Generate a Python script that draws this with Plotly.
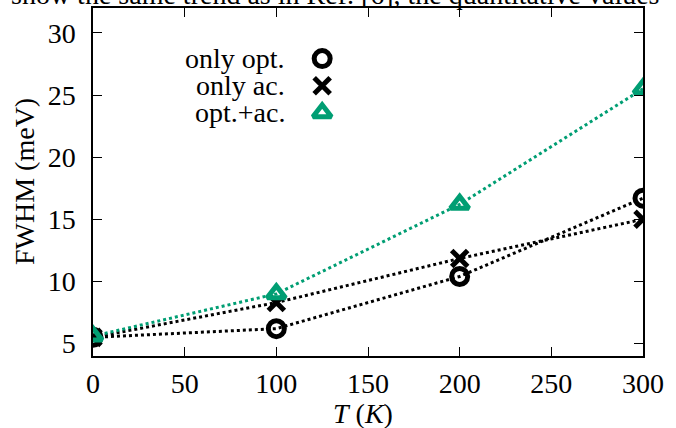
import plotly.graph_objects as go

T = [0, 100, 200, 300]
only_opt = [5.5, 6.2, 10.4, 16.7]
only_ac = [5.5, 8.3, 11.85, 15.0]
opt_ac = [5.6, 9.0, 16.2, 25.5]

labels = ["only opt.", "only ac.", "opt.+ac."]
colors = ["black", "black", "#009e73"]
symbols = ["circle-open", "x-thin-open", "triangle-up-open"]
series = [only_opt, only_ac, opt_ac]

key_x = 125
key_text_x = 106
key_y = [27.93, 25.75, 23.57]

FONT = "Liberation Serif"
FS = 28

fig = go.Figure()
for vals, col in zip(series, colors):
    fig.add_trace(go.Scatter(
        x=T, y=vals, mode="lines",
        line=dict(color=col, width=3, dash="dot"),
        showlegend=False, hoverinfo="skip"))
for vals, col, sym in zip(series, colors, symbols):
    fig.add_trace(go.Scatter(
        x=T, y=vals, mode="markers",
        marker=dict(symbol=sym, size=16, color=col, line=dict(color=col, width=5)),
        showlegend=False))

# manual gnuplot-style key
for lab, col, sym, ky in zip(labels, colors, symbols, key_y):
    fig.add_trace(go.Scatter(
        x=[key_x], y=[ky], mode="markers",
        marker=dict(symbol=sym, size=16, color=col, line=dict(color=col, width=5)),
        showlegend=False, hoverinfo="skip"))
    fig.add_annotation(x=key_text_x, y=ky, text=lab, showarrow=False,
                       xanchor="right", yanchor="middle",
                       font=dict(family=FONT, size=FS, color="black"))

# cropped text from the page above
fig.add_annotation(xref="paper", yref="paper", x=-0.153, y=1, yshift=-4,
                   xanchor="left", yanchor="bottom",
                   text="show the same trend as in Ref. [6], the quantitative values",
                   showarrow=False, font=dict(family=FONT, size=28, color="black"))

# axis titles
fig.add_annotation(xref="paper", yref="paper", x=0.49, y=0, yshift=-57,
                   xanchor="center", yanchor="middle", showarrow=False,
                   text="<i>T</i> (<i>K</i>)", font=dict(family=FONT, size=FS, color="black"))
fig.add_annotation(xref="paper", yref="paper", x=0, xshift=-69, y=0.5,
                   xanchor="center", yanchor="middle", showarrow=False, textangle=-90,
                   text="FWHM (meV)", font=dict(family=FONT, size=FS, color="black"))

axis_common = dict(
    showline=True, linecolor="black", linewidth=1.5, mirror="ticks",
    ticks="inside", ticklen=9, tickwidth=1.2, tickcolor="black",
    showgrid=False, zeroline=False, automargin=False,
    tickfont=dict(family=FONT, size=FS, color="black"),
)

fig.update_xaxes(range=[0, 300], tickvals=[0, 50, 100, 150, 200, 250, 300],
                 ticklabelstandoff=2, **axis_common)
fig.update_yaxes(range=[4, 32], tickvals=[5, 10, 15, 20, 25, 30],
                 ticklabelstandoff=10, **axis_common)

fig.update_layout(
    width=676, height=428,
    margin=dict(l=93, r=33, t=8, b=72),
    plot_bgcolor="white", paper_bgcolor="white",
    font=dict(family=FONT, color="black"),
)

fig.write_html("out.html", config={"displayModeBar": False},
               post_script="document.body.style.margin='0';")
